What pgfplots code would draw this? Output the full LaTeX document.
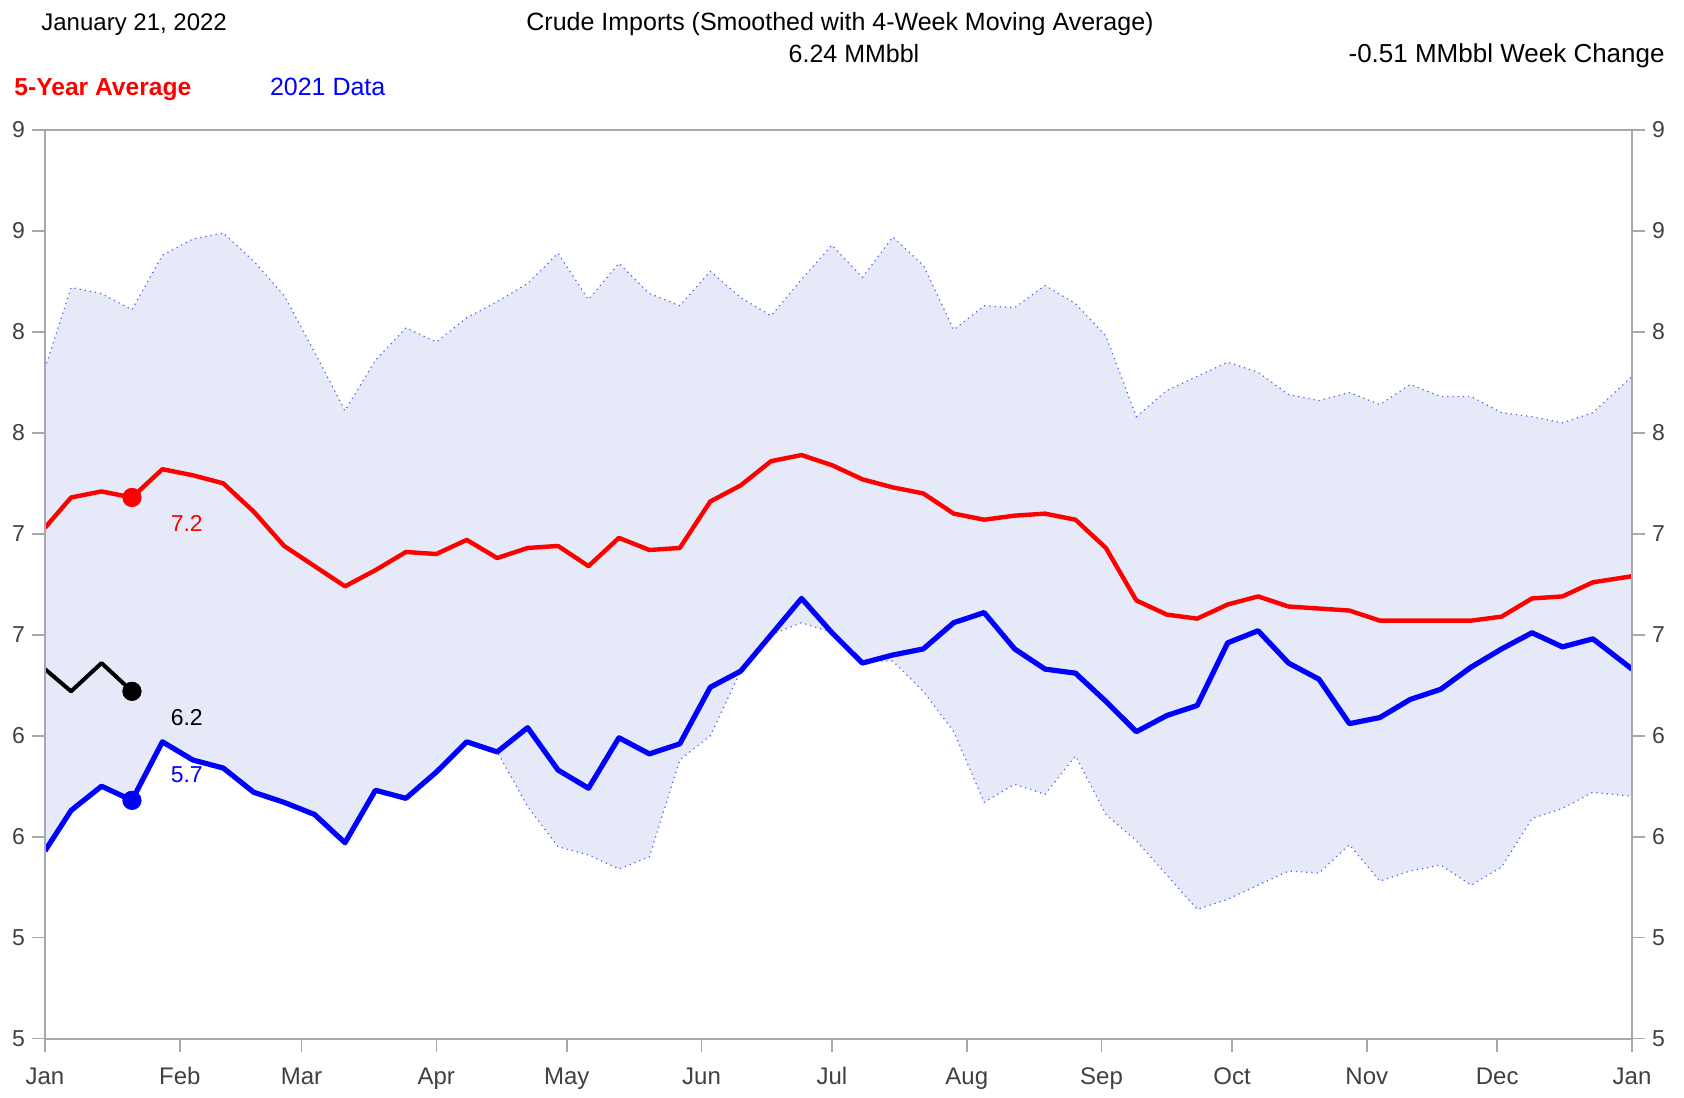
\documentclass[border=0pt]{standalone}
\usepackage{pgfplots}
\usepackage{pgfplotstable}
\pgfplotsset{compat=1.18}
\usepgfplotslibrary{fillbetween}
\usepackage{fontspec}
\setmainfont{Liberation Sans}
\definecolor{band}{RGB}{230,233,247}
\definecolor{axgray}{RGB}{165,168,172}
\definecolor{bandline}{RGB}{90,90,245}

\pgfplotstableread{
day red blue up lo
0 7.03 5.43 7.82 5.43
6 7.18 5.63 8.22 5.63
13 7.21 5.75 8.19 5.75
20 7.18 5.68 8.11 5.68
27 7.32 5.97 8.38 5.97
34 7.29 5.88 8.46 5.88
41 7.25 5.84 8.49 5.84
48 7.11 5.72 8.35 5.72
55 6.94 5.67 8.18 5.67
62 6.84 5.61 7.90 5.61
69 6.74 5.47 7.61 5.47
76 6.82 5.73 7.86 5.73
83 6.91 5.69 8.02 5.69
90 6.90 5.82 7.95 5.82
97 6.97 5.97 8.07 5.97
104 6.88 5.92 8.15 5.92
111 6.93 6.04 8.24 5.65
118 6.94 5.83 8.39 5.45
125 6.84 5.74 8.16 5.41
132 6.98 5.99 8.34 5.34
139 6.92 5.91 8.19 5.40
146 6.93 5.96 8.13 5.88
153 7.16 6.24 8.30 6.00
160 7.24 6.32 8.17 6.32
167 7.36 6.50 8.08 6.50
174 7.39 6.68 8.26 6.56
181 7.34 6.51 8.43 6.51
188 7.27 6.36 8.27 6.37
195 7.23 6.40 8.47 6.37
202 7.20 6.43 8.33 6.22
209 7.10 6.56 8.01 6.02
216 7.07 6.61 8.13 5.67
223 7.09 6.43 8.12 5.76
230 7.10 6.33 8.23 5.71
237 7.07 6.31 8.14 5.90
244 6.93 6.17 7.98 5.61
251 6.67 6.02 7.58 5.48
258 6.60 6.10 7.71 5.31
265 6.58 6.15 7.78 5.14
272 6.65 6.46 7.85 5.19
279 6.69 6.52 7.80 5.26
286 6.64 6.36 7.69 5.33
293 6.63 6.28 7.66 5.32
300 6.62 6.06 7.70 5.46
307 6.57 6.09 7.64 5.28
314 6.57 6.18 7.74 5.33
321 6.57 6.23 7.68 5.36
328 6.57 6.34 7.68 5.26
335 6.59 6.43 7.60 5.35
342 6.68 6.51 7.58 5.59
349 6.69 6.44 7.55 5.64
356 6.76 6.48 7.60 5.72
365 6.79 6.33 7.78 5.70
}\datatab

\pgfplotstableread{
day val
0 6.33
6 6.22
13 6.36
20 6.22
}\curtab

\pgfplotsset{
  common/.style={
    at={(22.5pt,-519.3pt)}, anchor=south west,
    scale only axis, width=793.5pt, height=454.3pt,
    xmin=0, xmax=365, ymin=4.5, ymax=9,
    ytick={4.5,5,5.5,6,6.5,7,7.5,8,8.5,9},
    yticklabels={5,5,6,6,7,7,8,8,9,9},
    tick align=outside,
    major tick length=6.5pt,
    tick style={axgray, line width=0.8pt},
    axis line style={axgray, line width=1pt},
    ticklabel style={font=\fontsize{11.5}{13}\selectfont, text=black!75},
    /pgf/number format/assume math mode=true,
  }
}

\begin{document}
\begin{tikzpicture}
\begin{axis}[common,
    xtick={0,31,59,90,120,151,181,212,243,273,304,334,365},
    xticklabels={Jan,Feb,Mar,Apr,May,Jun,Jul,Aug,Sep,Oct,Nov,Dec,Jan},
    xtick pos=bottom, ytick pos=left, yticklabel pos=left,
    xticklabel style={font=\fontsize{12}{14}\selectfont, yshift=-4.5pt, text height=1.6ex, text depth=0.4ex},
    clip=true]
  \addplot[name path=up, draw=none] table[x=day,y=up] {\datatab};
  \addplot[name path=lo, draw=none] table[x=day,y=lo] {\datatab};
  \addplot[band, draw=none] fill between[of=up and lo];
  \addplot[draw=bandline, dotted, line width=0.6pt] table[x=day,y=up] {\datatab};
  \addplot[draw=bandline, dotted, line width=0.6pt] table[x=day,y=lo] {\datatab};
  \addplot[red, line width=2.2pt, line join=round] table[x=day,y=red] {\datatab};
  \addplot[blue, line width=2.6pt, line join=round] table[x=day,y=blue] {\datatab};
  \addplot[black, line width=2pt, line join=round] table[x=day,y=val] {\curtab};
  \addplot[only marks, mark=*, mark size=4.6pt, red] coordinates {(20,7.18)};
  \addplot[only marks, mark=*, mark size=4.6pt, blue] coordinates {(20,5.68)};
  \addplot[only marks, mark=*, mark size=4.6pt, black] coordinates {(20,6.22)};
  \node[text=red, font=\fontsize{11.5}{13}\selectfont] at (axis cs:32.6,7.05) {7.2};
  \node[text=black, font=\fontsize{11.5}{13}\selectfont] at (axis cs:32.6,6.09) {6.2};
  \node[text=blue, font=\fontsize{11.5}{13}\selectfont] at (axis cs:32.6,5.805) {5.7};
\end{axis}
\begin{axis}[common,
    xtick=\empty,
    ytick pos=right, yticklabel pos=right]
  \addplot[draw=none] coordinates {(0,5) (365,5)};
\end{axis}

\begin{scope}[every node/.style={inner sep=0pt}]
\node[anchor=mid west, font=\fontsize{12}{14}\selectfont] at (20.5pt,-12.6pt) {January 21, 2022};
\node[anchor=mid, font=\fontsize{12.5}{14}\selectfont] at (420pt,-12.6pt) {Crude Imports (Smoothed with 4-Week Moving Average)};
\node[anchor=mid, font=\fontsize{12.5}{14}\selectfont] at (427pt,-28.7pt) {6.24 MMbbl};
\node[anchor=mid east, font=\fontsize{13}{15}\selectfont] at (832.5pt,-28.7pt) {-0.51 MMbbl Week Change};
\node[anchor=mid west, font=\bfseries\fontsize{12.3}{14}\selectfont, text=red] at (7pt,-45.3pt) {5-Year Average};
\node[anchor=mid west, font=\fontsize{12.5}{14}\selectfont, text=blue] at (134.8pt,-45.3pt) {2021 Data};
\end{scope}
\pgfresetboundingbox
\useasboundingbox (0,0) rectangle (842pt,-548.5pt);
\end{tikzpicture}
\end{document}
